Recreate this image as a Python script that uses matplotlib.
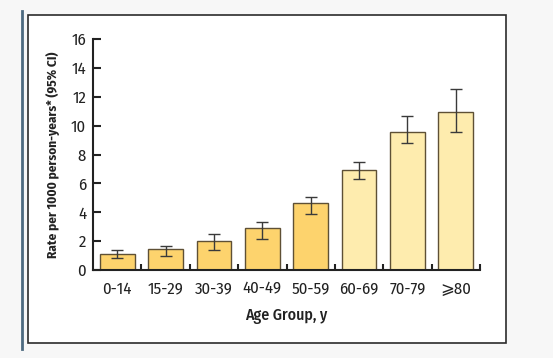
import numpy as np
import matplotlib; matplotlib.use("Agg")
import matplotlib.pyplot as plt
from matplotlib.patches import Rectangle
from matplotlib.lines import Line2D

groups = ["0-14", "15-29", "30-39", "40-49", "50-59", "60-69", "70-79", "\u2a7e80"]
rate = [1.11, 1.43, 2.03, 2.93, 4.64, 6.95, 9.56, 10.97]
ci_low = [0.81, 0.99, 1.39, 2.12, 3.86, 6.28, 8.78, 9.54]
ci_high = [1.39, 1.69, 2.47, 3.35, 5.06, 7.51, 10.69, 12.56]

DARK = "#fdd36d"
LIGHT = "#feecae"
colors = [DARK] * 5 + [LIGHT] * 3

plt.rcParams["font.family"] = ["Fira Sans Condensed", "DejaVu Sans"]

fig = plt.figure(figsize=(5.53, 3.58), dpi=100, facecolor="#f7f7f7")
# white framed panel + left accent line (behind the axes)
fig.patches.append(Rectangle((28 / 553, 1 - 343 / 358), (506 - 28) / 553, (343 - 15) / 358,
                             transform=fig.transFigure, facecolor="white",
                             edgecolor="#2b2b2b", lw=1.2, zorder=-1))
fig.lines.append(Line2D([22 / 553, 22 / 553], [1 - 349 / 358, 1 - 11 / 358],
                        transform=fig.transFigure, color="#4d6a80", lw=2, zorder=-1))

ax = fig.add_axes([93 / 553, 1 - 270 / 358, (480 - 93) / 553, (270 - 39) / 358])
ax.set_facecolor("none")
x = np.arange(len(groups))
rate = np.array(rate)
yerr = [rate - np.array(ci_low), np.array(ci_high) - rate]
ax.bar(x, rate, width=0.72, color=colors, edgecolor="#5e5035", linewidth=1.0, zorder=2)
ax.errorbar(x, rate, yerr=yerr, fmt="none", ecolor="#3a3a3a", elinewidth=1.0,
            capsize=4.5, capthick=1.0, zorder=3)

ax.set_xlim(-0.5, 7.5)
ax.set_ylim(0, 16)
ax.set_yticks(range(0, 17, 2))
ax.set_xticks(x)
ax.set_xticklabels(groups, fontsize=12, color="#222222")
ax.set_xticks(np.arange(0.5, 8, 1), minor=True)
ax.tick_params(axis="x", which="major", length=0, pad=8)
ax.tick_params(axis="x", which="minor", direction="in", length=4, width=1.5, color="#222222")
ax.tick_params(axis="y", direction="in", length=6, width=1.5, labelsize=12,
               labelcolor="#222222", color="#222222", pad=5)
for s in ["top", "right"]:
    ax.spines[s].set_visible(False)
for s in ["left", "bottom"]:
    ax.spines[s].set_linewidth(1.5)
    ax.spines[s].set_color("#222222")

ax.set_ylabel("Rate per 1000 person-years* (95% CI)", fontsize=9.5, fontweight="bold",
              color="#222222", labelpad=8)
ax.set_xlabel("Age Group, y", fontsize=11.5, fontweight="medium", color="#222222", labelpad=8)

fig.savefig("out.png", dpi=100, facecolor=fig.get_facecolor())
